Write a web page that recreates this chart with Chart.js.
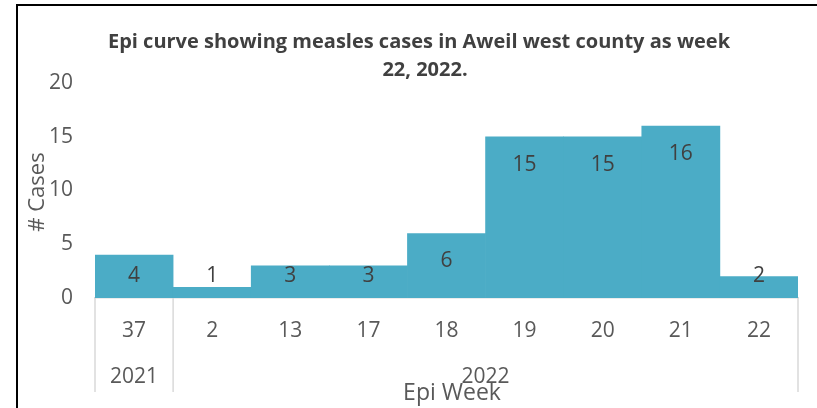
<!DOCTYPE html>
<html>
<head>
<meta charset="utf-8">
<script src="https://cdn.jsdelivr.net/npm/chart.js@4/dist/chart.umd.min.js"></script>
<style>
  html, body { margin: 0; padding: 0; background: #fff; width: 817px; height: 408px; overflow: hidden; }
  #frame { position: absolute; left: 16px; top: 4px; width: 900px; height: 500px; border-left: 2px solid #000; border-top: 2px solid #000; }
  #c { position: absolute; left: 0; top: 0; }
</style>
</head>
<body>
<div id="frame"></div>
<canvas id="c" width="817" height="408"></canvas>
<script>
const titleLines = ['Epi curve showing measles cases in Aweil west county as week', '22, 2022.'];
const weeks = ['37', '2', '13', '17', '18', '19', '20', '21', '22'];
const cases = [4, 1, 3, 3, 6, 15, 15, 16, 2];
const yearLabels = ['2021', '2022'];
const yearSpans = [1, 8];
const yTickValues = [0, 5, 10, 15, 20];
const yTitle = '# Cases';
const xTitle = 'Epi Week';

const FONT = '"Open Sans", "DejaVu Sans", sans-serif';
const GRAY = '#595959';

const extras = {
  id: 'extras',
  afterDatasetsDraw(chart) {
    const ctx = chart.ctx;
    const ys = chart.scales.y;
    const meta = chart.getDatasetMeta(0);
    ctx.save();
    ctx.font = '21px ' + FONT;
    ctx.fillStyle = '#404040';
    ctx.textAlign = 'center';
    ctx.textBaseline = 'middle';
    const capY = ys.getPixelForValue(2);
    meta.data.forEach((bar, i) => {
      const y = Math.min(bar.y + 28, capY);
      ctx.fillText(String(cases[i]), bar.x, y);
    });
    ctx.restore();
  },
  afterDraw(chart) {
    const ctx = chart.ctx;
    const area = chart.chartArea;
    const meta = chart.getDatasetMeta(0);
    const half = (meta.data[1].x - meta.data[0].x) / 2;
    ctx.save();
    // group separators
    ctx.strokeStyle = '#D9D9D9';
    ctx.lineWidth = 1.5;
    let idx = 0;
    const bounds = [0];
    yearSpans.forEach(n => { idx += n; bounds.push(idx); });
    bounds.forEach(b => {
      const x = b < meta.data.length ? meta.data[b].x - half : meta.data[b - 1].x + half;
      ctx.beginPath();
      ctx.moveTo(x, area.bottom);
      ctx.lineTo(x, 392);
      ctx.stroke();
    });
    // year labels
    ctx.font = '21px ' + FONT;
    ctx.fillStyle = GRAY;
    ctx.textAlign = 'center';
    ctx.textBaseline = 'middle';
    let start = 0;
    yearSpans.forEach((n, k) => {
      const x0 = meta.data[start].x - half;
      const x1 = meta.data[start + n - 1].x + half;
      ctx.fillText(yearLabels[k], (x0 + x1) / 2, 377);
      start += n;
    });
    // x title
    ctx.font = '23px ' + FONT;
    ctx.fillText(xTitle, 452, 393);
    // y title
    ctx.save();
    ctx.translate(38, 192);
    ctx.rotate(-Math.PI / 2);
    ctx.font = '22px ' + FONT;
    ctx.fillText(yTitle, 0, 0);
    ctx.restore();
    // chart title
    ctx.font = 'bold 20px ' + FONT;
    ctx.fillStyle = '#404040';
    ctx.fillText(titleLines[0], 419, 42);
    ctx.fillText(titleLines[1], 425, 70);
    ctx.restore();
  }
};

new Chart(document.getElementById('c'), {
  type: 'bar',
  data: {
    labels: weeks,
    datasets: [{
      data: cases,
      backgroundColor: '#4BACC6',
      borderWidth: 0,
      barPercentage: 1,
      categoryPercentage: 1
    }]
  },
  options: {
    responsive: false,
    animation: false,
    layout: { padding: { left: 0, right: 19, top: 83, bottom: 0 } },
    plugins: { legend: { display: false }, tooltip: { enabled: false }, title: { display: false } },
    scales: {
      x: {
        grid: { display: false, drawTicks: false },
        border: { display: true, color: '#D9D9D9', width: 1.5 },
        ticks: { color: GRAY, font: { family: FONT, size: 21 }, padding: 20, maxRotation: 0 },
        afterFit(s) { s.height = 110; }
      },
      y: {
        min: 0, max: 20,
        afterBuildTicks(s) { s.ticks = yTickValues.map(v => ({ value: v })); },
        grid: { display: false, drawTicks: false },
        border: { display: false },
        ticks: { color: GRAY, font: { family: FONT, size: 21 }, padding: 22 },
        afterFit(s) { s.width = 95; }
      }
    }
  },
  plugins: [extras]
});
</script>
</body>
</html>
